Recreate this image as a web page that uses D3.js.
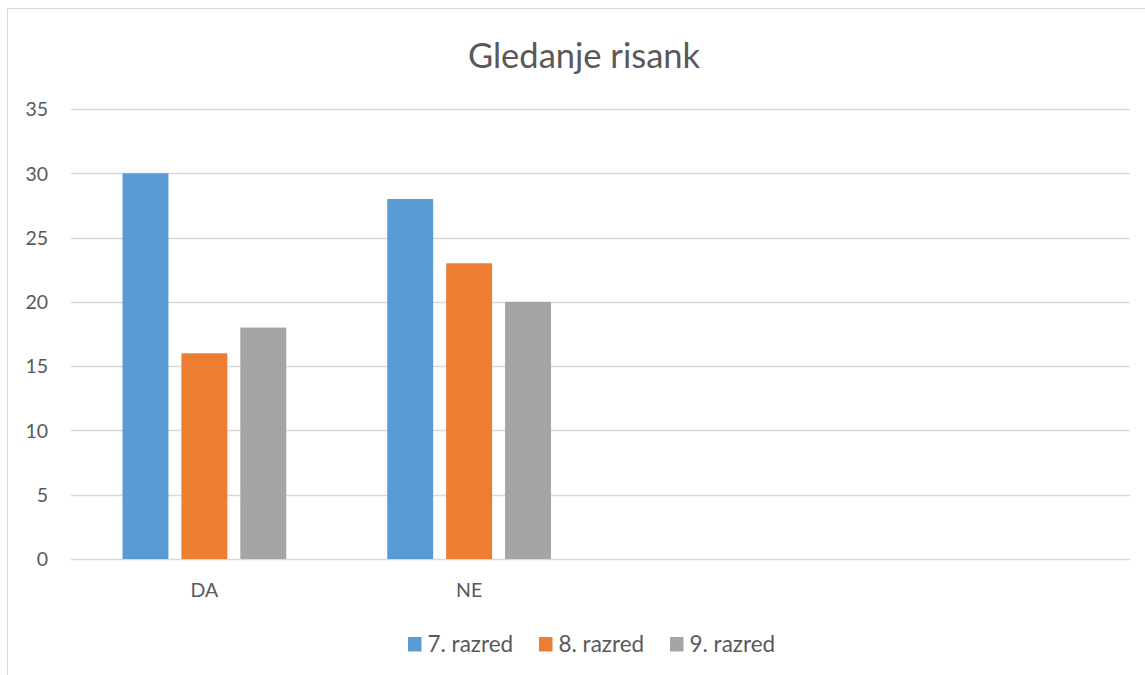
<!DOCTYPE html>
<html><head><meta charset="utf-8">
<script src="https://cdn.jsdelivr.net/npm/d3@7"></script>
<style>body{margin:0;background:#fff}svg{display:block}text{font-family:Lato,"Open Sans",sans-serif;fill:#595959}</style>
</head><body><svg id="c" width="1145" height="675"></svg>
<script>
const categories = ["DA", "NE", "", " "];
const seriesNames = ["7. razred", "8. razred", "9. razred"];
const razred7 = [30, 28, null, null];
const razred8 = [16, 23, null, null];
const razred9 = [18, 20, null, null];
const yTicks = [0, 5, 10, 15, 20, 25, 30, 35];
const colors = ["#5B9BD5", "#ED7D31", "#A5A5A5"];
const seriesValues = [razred7, razred8, razred9];

const svg = d3.select("#c");
svg.append("rect").attr("x", 7.5).attr("y", 8.5).attr("width", 1160).attr("height", 700)
  .attr("fill", "#fff").attr("stroke", "#D9D9D9");

const x0 = d3.scaleBand().domain(categories).range([72, 1131]).padding(0);
const x1 = d3.scaleBand().domain(seriesNames).range([0, x0.bandwidth()]).paddingInner(0.22).paddingOuter(0.857);
const y = d3.scaleLinear().domain([0, 35]).range([559, 109]);

const grid = svg.append("g");
grid.selectAll("line").data(yTicks).join("line")
  .attr("x1", 71).attr("x2", 1130).attr("y1", d => Math.round(y(d)) + 0.5).attr("y2", d => Math.round(y(d)) + 0.5)
  .attr("stroke", "#D9D9D9").attr("stroke-width", 1.5);

const yAxis = d3.axisLeft(y).tickValues(yTicks).tickSize(0).tickPadding(0);
const ga = svg.append("g").attr("transform", "translate(48,0)").call(yAxis);
ga.select(".domain").remove();
ga.selectAll("text").style("font-size", "19.5px").attr("fill", "#595959").attr("dy", "0.35em");

const xAxis = d3.axisBottom(x0).tickSize(0).tickPadding(0);
const gx = svg.append("g").attr("transform", "translate(0,590)").call(xAxis);
gx.select(".domain").remove();
gx.selectAll("text").style("font-size", "19.5px").attr("fill", "#595959").attr("dy", "0.35em");

const groups = svg.append("g").selectAll("g").data(seriesNames).join("g").attr("fill", (d, i) => colors[i]);
groups.selectAll("rect").data((s, i) => categories.map((c, j) => ({c, v: seriesValues[i][j], s})).filter(d => d.v != null))
  .join("rect")
  .attr("x", d => x0(d.c) + x1(d.s)).attr("width", x1.bandwidth())
  .attr("y", d => y(d.v)).attr("height", d => y(0) - y(d.v));

svg.append("text").attr("x", 584).attr("y", 68).attr("text-anchor", "middle")
  .style("font-size", "34.5px").text("Gledanje risank");

const legX = [408, 539, 670];
const leg = svg.append("g").selectAll("g").data(seriesNames).join("g")
  .attr("transform", (d, i) => `translate(${legX[i]},637)`);
leg.append("rect").attr("width", 13.5).attr("height", 14.5).attr("fill", (d, i) => colors[i]);
leg.append("text").attr("x", 19.5).attr("y", 14.5).style("font-size", "22.5px").text(d => d);
</script></body></html>
